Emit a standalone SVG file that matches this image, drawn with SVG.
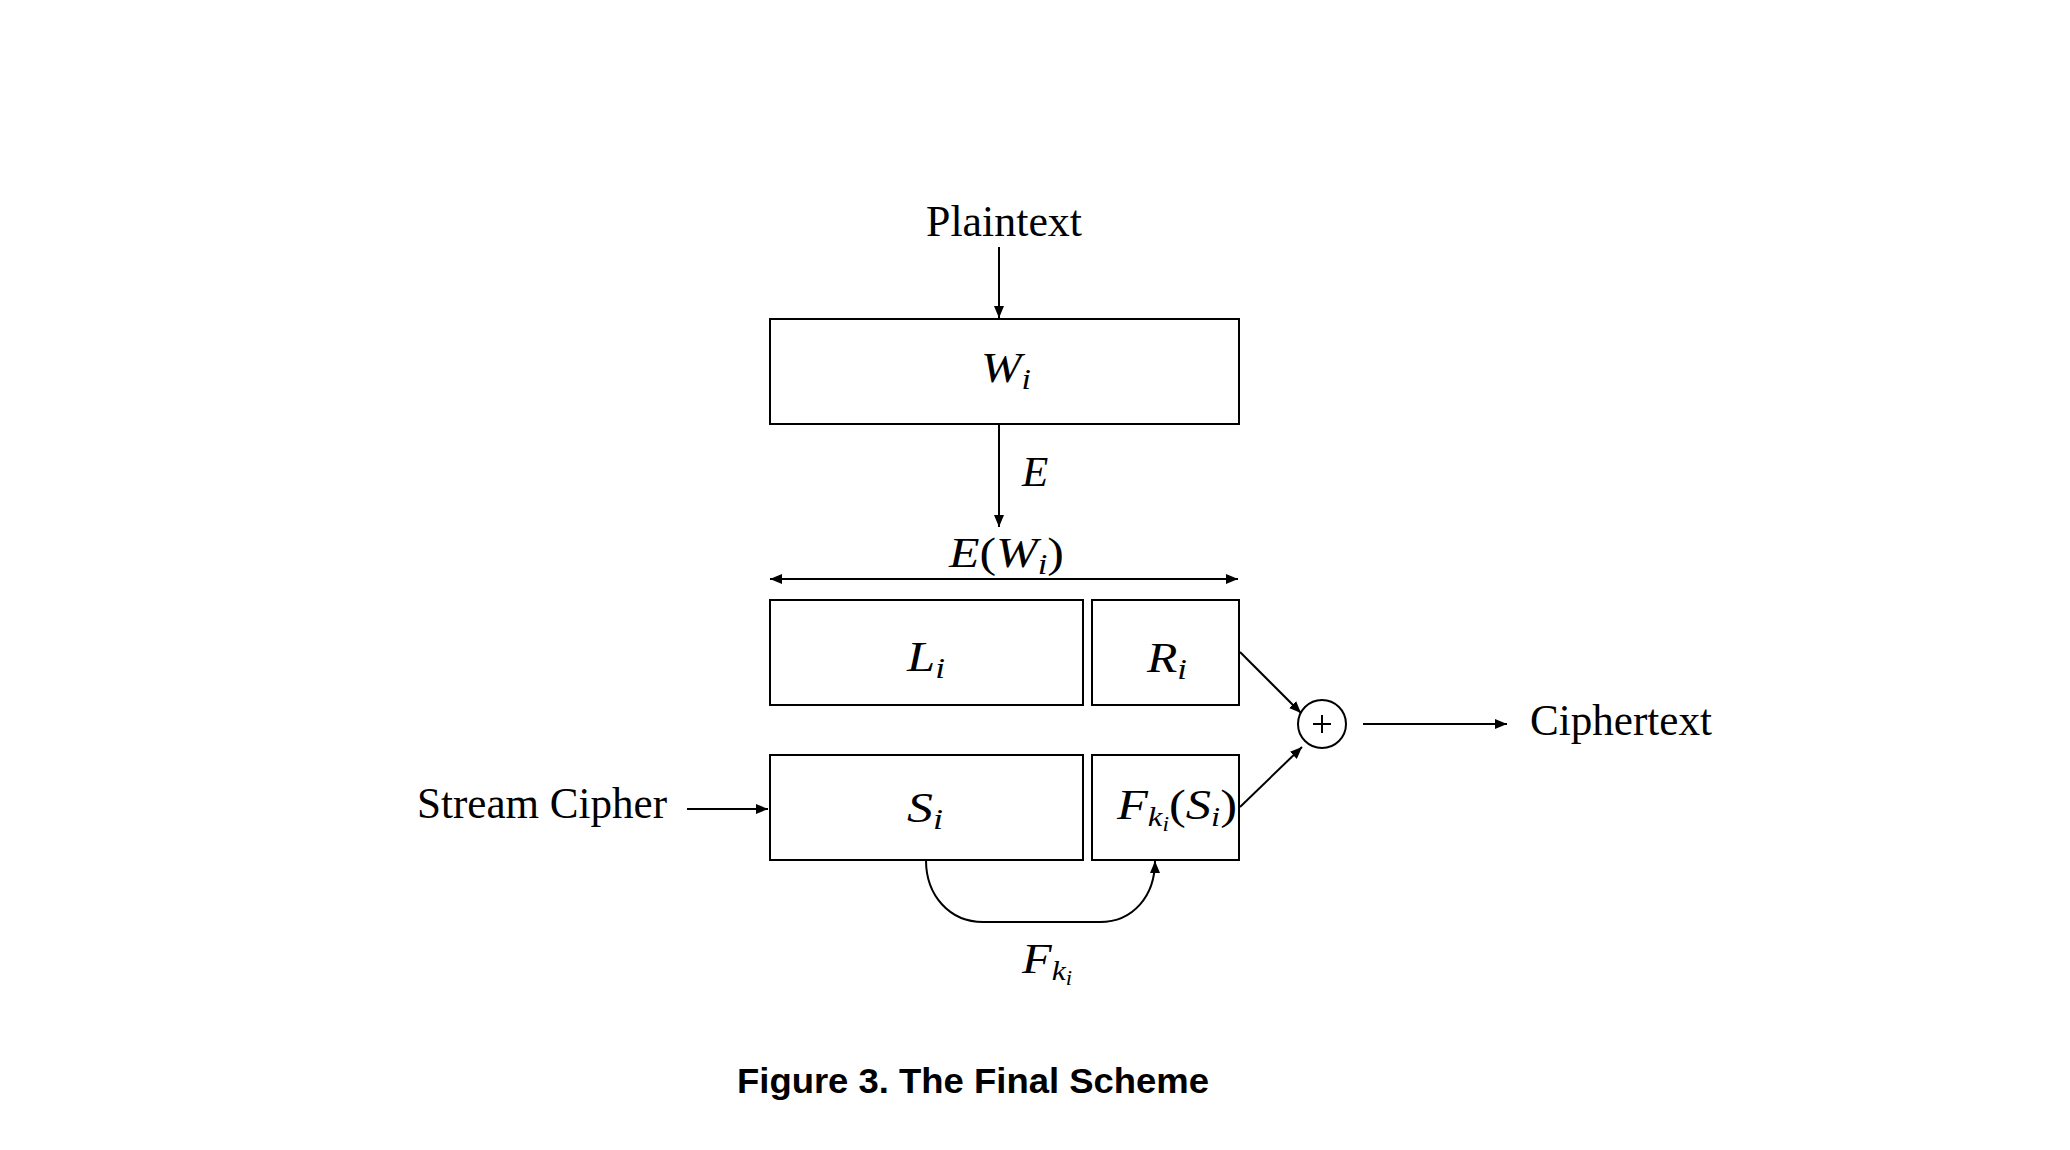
<svg xmlns="http://www.w3.org/2000/svg" width="2070" height="1150" viewBox="0 0 2070 1150">
<style>
.box{fill:none;stroke:#000;stroke-width:2}
.ln{fill:none;stroke:#000;stroke-width:2}
.rm{font-family:"Liberation Serif",serif;font-size:44px;fill:#000}
.mi{font-family:"Liberation Serif",serif;font-style:italic;font-size:43px;fill:#000}
.up{font-style:normal}
.cap{font-family:"Liberation Sans",Arial,sans-serif;font-weight:bold;font-size:35px;fill:#000}
</style>
<defs>
<marker id="ah" viewBox="0 0 12 10" refX="12" refY="5" markerWidth="12" markerHeight="10" markerUnits="userSpaceOnUse" orient="auto-start-reverse">
<path d="M0,0 L12,5 L0,10 z" fill="#000"/>
</marker>
</defs>
<rect width="2070" height="1150" fill="#fff"/>

<g id="plaintext"><text class="rm" x="926" y="236" textLength="156" lengthAdjust="spacingAndGlyphs">Plaintext</text></g>
<g id="W"><rect class="box" x="770" y="319" width="469" height="105"/>
<text class="mi" x="981" y="382" textLength="50" lengthAdjust="spacingAndGlyphs">W<tspan font-size="30" dy="7">i</tspan></text></g>
<g id="E-label"><text class="mi" x="1022" y="486">E</text></g>
<g id="EW-label"><text class="mi" x="949" y="567" textLength="115" lengthAdjust="spacingAndGlyphs">E<tspan class="up">(</tspan>W<tspan font-size="30" dy="7">i</tspan><tspan class="up" dy="-7">)</tspan></text></g>
<g id="L"><rect class="box" x="770" y="600" width="313" height="105"/>
<text class="mi" x="907" y="671" textLength="38" lengthAdjust="spacingAndGlyphs">L<tspan font-size="30" dy="7">i</tspan></text></g>
<g id="R"><rect class="box" x="1092" y="600" width="147" height="105"/>
<text class="mi" x="1147" y="672" textLength="40" lengthAdjust="spacingAndGlyphs">R<tspan font-size="30" dy="7">i</tspan></text></g>
<g id="S"><rect class="box" x="770" y="755" width="313" height="105"/>
<text class="mi" x="907" y="822" textLength="36" lengthAdjust="spacingAndGlyphs">S<tspan font-size="30" dy="7">i</tspan></text></g>
<g id="FS"><rect class="box" x="1092" y="755" width="147" height="105"/>
<text class="mi" x="1117" y="819" textLength="120" lengthAdjust="spacingAndGlyphs">F<tspan font-size="28" dy="7">k</tspan><tspan font-size="20" dy="5">i</tspan><tspan class="up" dy="-12">(</tspan>S<tspan font-size="28" dy="7">i</tspan><tspan class="up" dy="-7">)</tspan></text></g>
<g id="xor"><circle cx="1322" cy="724" r="24" fill="none" stroke="#000" stroke-width="2"/>
<path class="ln" d="M1313,724 H1331 M1322,715 V733" stroke-width="1.5"/></g>
<g id="stream"><text class="rm" x="417" y="818" textLength="250" lengthAdjust="spacingAndGlyphs">Stream Cipher</text></g>
<g id="cipher"><text class="rm" x="1530" y="735" textLength="182" lengthAdjust="spacingAndGlyphs">Ciphertext</text></g>
<g id="Fk-label"><text class="mi" x="1022" y="973" textLength="50" lengthAdjust="spacingAndGlyphs">F<tspan font-size="28" dy="7">k</tspan><tspan font-size="20" dy="5">i</tspan></text></g>

<g id="connectors">
<line class="ln" x1="999" y1="247" x2="999" y2="318" marker-end="url(#ah)"/>
<line class="ln" x1="999" y1="425" x2="999" y2="527" marker-end="url(#ah)"/>
<line class="ln" x1="770" y1="579" x2="1238" y2="579" marker-start="url(#ah)" marker-end="url(#ah)"/>
<line class="ln" x1="687" y1="809" x2="768" y2="809" marker-end="url(#ah)"/>
<line class="ln" x1="1240" y1="652" x2="1301" y2="713" marker-end="url(#ah)"/>
<line class="ln" x1="1240" y1="807" x2="1302" y2="747" marker-end="url(#ah)"/>
<line class="ln" x1="1363" y1="724" x2="1507" y2="724" marker-end="url(#ah)"/>
<path class="ln" d="M926,860 C926,896 950,922 983,922 L1100,922 C1133,922 1155,896 1155,861" marker-end="url(#ah)"/>
</g>

<g id="caption"><text class="cap" x="737" y="1093" textLength="472" lengthAdjust="spacingAndGlyphs">Figure 3. The Final Scheme</text></g>
</svg>
